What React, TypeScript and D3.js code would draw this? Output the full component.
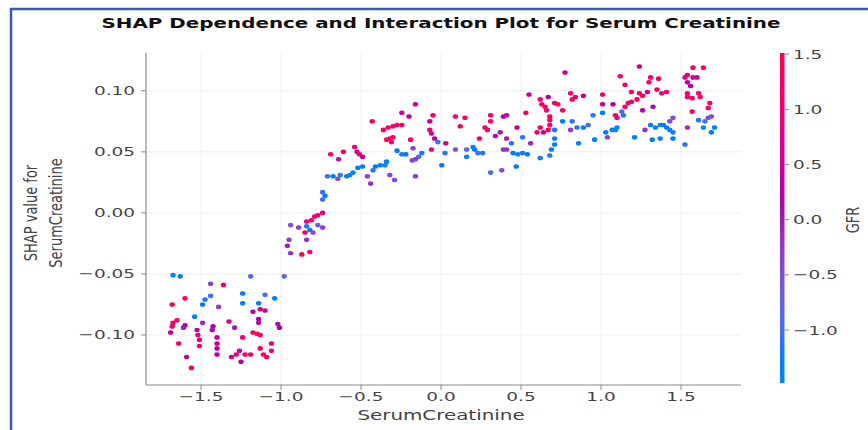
import React, { useEffect, useRef } from "react";
import * as d3 from "d3";

// values
const serumCreatinine = [
  -1.675, -1.63, -1.44, -1.36, -1.19, -0.98, -1.6, -1.68, -1.49, -1.475,
  -1.44, -1.39, -1.24, -1.24, -1.1, -1.04, -1.14, -1.54, -1.49, -1.65,
  -1.675, -1.68, -1.6, -1.61, -1.175, -1.13, -1.1, -1.14, -1.14, -1.325,
  -1.02, -1.01, -1.69, -1.525, -1.52, -1.51, -1.51, -1.425, -1.43, -1.4,
  -1.4, -1.4, -1.4, -1.29, -1.24, -1.175, -1.15, -1.13, -1.06, -1.06,
  -1.64, -1.31, -1.28, -1.26, -1.225, -1.19, -1.13, -1.11, -1.09, -1.59, -1.25, -1.56,
  -0.94, -0.89, -0.95, -0.96, -0.94, -0.87, -0.82, -0.84, -0.84, -0.82,
  -0.8, -0.84, -0.81, -0.79, -0.77, -0.74, -0.77, -0.74, -0.85, -0.74,
  -0.725, -0.74, -0.71, -0.675, -0.645, -0.59, -0.57, -0.55, -0.52, -0.49,
  -0.46, -0.44, -0.69, -0.64, -0.61, -0.54, -0.525, -0.51, -0.49, -0.63,
  -0.43, -0.41, -0.38, -0.35, -0.34, -0.425, -0.32, -0.29, -0.36, -0.33,
  -0.3, -0.275, -0.245, -0.32, -0.34, -0.31, -0.245, -0.2, -0.16, -0.05,
  -0.07, -0.07, -0.06, -0.04, -0.02, -0.19, -0.275, -0.245, -0.22, -0.175,
  -0.12, -0.14, -0.16, -0.18, -0.16, -0.06, 0.005, 0.025, 0.03, -0.3,
  0.09, 0.15, 0.12, 0.09, 0.16, 0.16, 0.2, 0.21, 0.23, 0.26,
  0.24, 0.275, 0.29, 0.31, 0.31, 0.34, 0.37, 0.39, 0.41, 0.39,
  0.41, 0.44, 0.45, 0.475, 0.48, 0.51, 0.54, 0.51, 0.56, 0.53,
  0.55, 0.62, 0.63, 0.65, 0.66, 0.67, 0.71, 0.73, 0.68, 0.68,
  0.68, 0.67, 0.62, 0.64, 0.71, 0.71, 0.71, 0.69, 0.68, 0.62,
  0.47, 0.31, 0.38, 0.6, 0.41,
  0.775, 0.76, 0.81, 0.84, 0.89, 0.82, 0.76, 0.82, 0.85, 0.89,
  0.92, 0.81, 0.86, 0.96, 0.95, 1.01, 1.01, 1.01, 1.075, 1.09,
  1.1, 1.14, 1.13, 1.03, 1.07, 1.09, 1.1, 1.04, 1.15, 1.17,
  1.19, 1.225, 1.26, 1.12, 1.15, 1.24, 1.19, 1.24, 1.29, 1.35,
  1.38, 1.41, 1.31, 1.36, 1.3, 1.26, 1.325, 1.31, 1.21, 1.275,
  1.32, 1.37, 1.34, 1.37, 1.39, 1.41, 1.43, 1.45, 1.43, 1.45,
  1.45, 1.525, 1.54, 1.56, 1.525, 1.54, 1.575, 1.6, 1.575, 1.64,
  1.54, 1.54, 1.57, 1.61, 1.62, 1.57, 1.68, 1.67, 1.54, 1.61,
  1.65, 1.67, 1.69, 1.64, 1.69, 1.71,
];

const shapValues = [
  -0.051, -0.052, -0.058, -0.059, -0.052, -0.052, -0.07, -0.075, -0.075, -0.071,
  -0.068, -0.077, -0.066, -0.074, -0.067, -0.07, -0.074, -0.085, -0.09, -0.088,
  -0.09, -0.093, -0.092, -0.094, -0.081, -0.079, -0.08, -0.087, -0.09, -0.089,
  -0.091, -0.094, -0.098, -0.096, -0.1, -0.104, -0.109, -0.093, -0.096, -0.102,
  -0.107, -0.111, -0.116, -0.094, -0.102, -0.098, -0.099, -0.1, -0.107, -0.113,
  -0.107, -0.118, -0.116, -0.113, -0.116, -0.116, -0.111, -0.116, -0.118, -0.118, -0.122, -0.127,
  -0.01, -0.012, -0.022, -0.027, -0.033, -0.034, -0.032, -0.022, -0.011, -0.014,
  -0.016, -0.007, -0.006, -0.003, -0.002, 0.0, -0.01, -0.012, -0.016, 0.017,
  0.014, 0.011, 0.03, 0.03, 0.028, 0.03, 0.031, 0.033, 0.037, 0.038,
  0.03, 0.024, 0.048, 0.044, 0.05, 0.054, 0.05, 0.048, 0.046, 0.031,
  0.075, 0.038, 0.039, 0.039, 0.042, 0.035, 0.031, 0.027, 0.068, 0.07,
  0.071, 0.072, 0.072, 0.061, 0.06, 0.058, 0.082, 0.079, 0.089, 0.08,
  0.075, 0.068, 0.065, 0.061, 0.058, 0.06, 0.051, 0.048, 0.048, 0.053,
  0.049, 0.046, 0.044, 0.043, 0.03, 0.052, 0.039, 0.049, 0.057, 0.062,
  0.079, 0.078, 0.071, 0.052, 0.052, 0.046, 0.054, 0.052, 0.049, 0.049,
  0.061, 0.07, 0.068, 0.075, 0.08, 0.063, 0.066, 0.079, 0.08, 0.052,
  0.052, 0.057, 0.049, 0.07, 0.048, 0.049, 0.048, 0.062, 0.057, 0.082,
  0.097, 0.093, 0.089, 0.087, 0.084, 0.095, 0.09, 0.089, 0.079, 0.076,
  0.072, 0.068, 0.07, 0.066, 0.068, 0.061, 0.056, 0.052, 0.047, 0.045,
  0.038, 0.033, 0.035, 0.066, 0.061,
  0.115, 0.084, 0.098, 0.095, 0.096, 0.093, 0.075, 0.075, 0.07, 0.07,
  0.072, 0.068, 0.057, 0.06, 0.08, 0.082, 0.097, 0.089, 0.089, 0.08,
  0.078, 0.08, 0.083, 0.066, 0.068, 0.068, 0.07, 0.062, 0.087, 0.09,
  0.091, 0.093, 0.096, 0.112, 0.105, 0.12, 0.099, 0.098, 0.099, 0.101,
  0.098, 0.099, 0.111, 0.11, 0.107, 0.084, 0.087, 0.072, 0.062, 0.068,
  0.06, 0.061, 0.07, 0.072, 0.072, 0.07, 0.068, 0.066, 0.075, 0.078,
  0.061, 0.056, 0.107, 0.104, 0.111, 0.113, 0.111, 0.111, 0.119, 0.119,
  0.098, 0.095, 0.094, 0.098, 0.095, 0.083, 0.09, 0.086, 0.07, 0.076,
  0.075, 0.078, 0.079, 0.07, 0.066, 0.07,
];

const gfrValues = [
  -1.35, -1.25, -0.4, 1.25, -0.95, -0.95, 1.25, 1.35, -1.25, -1.15,
  -1.05, -0.3, -1.35, -1.35, -0.95, -1.25, -1.25, -1.45, -0.1, 1.25,
  1.35, 1.15, 0.2, 0.0, 0.3, 0.6, 0.4, 0.2, 0.1, 0.7,
  0.1, 0.2, 0.4, 0.3, 1.15, 1.15, 1.25, 0.2, 0.1, 0.4,
  0.5, 0.3, 0.2, 0.0, 1.15, 1.35, 1.45, 1.25, 1.15, 1.05,
  1.15, 0.6, 1.05, 0.5, 1.25, 1.35, 1.35, 1.25, 1.45, 0.1, 0.2, 1.15,
  -0.5, -0.3, -0.3, 0.0, -0.2, 1.25, 1.05, -0.2, -1.15, -1.25,
  -0.5, 1.15, 1.25, 0.7, 1.25, 0.6, -0.95, -0.3, 1.15, -1.05,
  -1.25, -0.95, -0.95, -1.25, -0.5, -1.35, -1.45, -1.35, -1.25, -1.35,
  -0.3, -0.2, 1.25, 0.0, 1.15, 1.05, 0.5, 1.25, 0.2, -1.05,
  1.25, -1.25, -1.35, -1.15, -1.35, -1.05, -0.3, -0.5, 1.25, 1.35,
  1.25, 1.15, 1.45, 1.15, 1.35, 1.15, 0.4, 0.3, 0.6, 1.05,
  0.4, 1.15, 0.6, 0.3, -0.95, 1.25, -1.25, -1.15, -1.25, -0.3,
  -1.15, -0.95, -0.2, -0.4, -0.3, 1.25, -1.25, -1.15, 0.5, 1.35,
  1.25, 1.15, 1.35, -0.5, -0.95, -1.25, -1.35, -1.25, -1.05, -1.15,
  1.25, 1.15, 1.05, 1.25, 1.15, 0.1, 0.0, 0.2, 0.3, -0.1,
  -0.2, -1.15, -1.25, 0.3, -1.35, -1.15, -1.25, -1.05, -0.1, 1.25,
  0.3, 1.25, 1.05, 1.35, 1.15, 0.3, 1.25, 1.45, 1.25, 1.35,
  1.15, 1.25, 1.25, 0.4, -1.15, -1.25, -1.35, -1.25, -1.15, -1.35,
  -1.25, -0.95, -0.5, 1.25, 0.0,
  0.4, 1.25, 1.25, 1.15, 0.3, 1.35, -1.25, -1.05, -1.15, -1.35,
  -0.95, -0.3, -1.35, -1.25, -1.15, -1.25, 1.15, 0.4, 0.2, 1.25,
  1.05, -1.15, -0.95, -1.35, -1.25, -1.15, -1.35, -0.3, 1.25, 1.35,
  1.15, 1.25, 1.45, 1.25, 1.35, 0.4, 1.25, 1.15, 0.5, 1.25,
  1.05, 1.35, 1.25, 1.45, 1.15, 0.3, 0.1, -1.25, -1.35, -0.2,
  -1.25, -1.35, -1.45, -1.45, -1.35, -1.25, -1.45, -1.15, -0.4, -0.5,
  -1.25, -1.15, 0.3, 0.2, 1.15, 0.6, 0.5, 0.4, 1.25, 1.35,
  1.25, 1.15, 1.35, 1.25, 1.15, 1.35, 1.25, 1.35, -0.2, -1.15,
  -0.95, -0.5, -0.4, -1.45, -1.25, -1.35,
];

const xTicks = [-1.5, -1.0, -0.5, 0.0, 0.5, 1.0, 1.5];
const yTicks = [-0.1, -0.05, 0.0, 0.05, 0.1];
const gfrTicks = [-1.0, -0.5, 0.0, 0.5, 1.0, 1.5];
const gfrRange = [-1.48, 1.51];

const W = 868;
const H = 430;
const SX = 1.42; // the picture is stretched sideways
const FONT = "DejaVu Sans";

// shap red_blue colormap (LCh blue -> dark purple -> red)
function redBlue(t: number) {
  t = Math.max(0, Math.min(1, t));
  const h = 266.9 + t * (380.3 - 266.9);
  const c = 70 + 20 * t;
  const l = t < 0.5 ? 54 - 28 * t : 40 + 28 * (t - 0.5);
  return d3.hcl(h % 360, c, l).formatHex();
}

export default function App() {
  const ref = useRef<SVGSVGElement>(null);

  useEffect(() => {
    const svg = d3.select(ref.current);
    svg.selectAll("*").remove();

    const x = d3.scaleLinear().domain([-1.844, 1.875]).range([146, 741]);
    const y = d3.scaleLinear().domain([-0.141, 0.131]).range([385, 53]);
    const cb = d3.scaleLinear().domain(gfrRange).range([383, 53]);
    const colorOf = (v: number) => redBlue((v - gfrRange[0]) / (gfrRange[1] - gfrRange[0]));

    const text = (px: number, py: number, str: string, size: number, anchor: string, weight = "normal", fill = "#444") =>
      svg.append("text")
        .attr("transform", `translate(${px},${py}) scale(${SX},1)`)
        .attr("text-anchor", anchor)
        .attr("font-family", FONT)
        .attr("font-size", size)
        .attr("font-weight", weight)
        .attr("fill", fill)
        .text(str);

    svg.append("rect").attr("width", W).attr("height", H).attr("fill", "#fff");

    // frame round the picture
    svg.append("path").attr("d", `M11,${H} V9 H${W}`).attr("fill", "none")
      .attr("stroke", "#3a5ba6").attr("stroke-width", 2.5);

    // grid
    svg.append("g").selectAll("line").data(xTicks).enter().append("line")
      .attr("x1", d => x(d)).attr("x2", d => x(d)).attr("y1", 53).attr("y2", 385)
      .attr("stroke", "#eeeeee").attr("stroke-width", 1);
    svg.append("g").selectAll("line").data(yTicks).enter().append("line")
      .attr("x1", 146).attr("x2", 741).attr("y1", d => y(d)).attr("y2", d => y(d))
      .attr("stroke", "#eeeeee").attr("stroke-width", 1);

    // points
    const idx = d3.range(serumCreatinine.length);
    svg.append("g").selectAll("ellipse").data(idx).enter().append("ellipse")
      .attr("cx", i => x(serumCreatinine[i]))
      .attr("cy", i => y(shapValues[i]))
      .attr("rx", 2.7).attr("ry", 2.3)
      .attr("fill", i => colorOf(gfrValues[i]));

    // spines and ticks
    const axisColor = "#8a8a8a";
    svg.append("line").attr("x1", 146).attr("x2", 146).attr("y1", 53).attr("y2", 385)
      .attr("stroke", axisColor).attr("stroke-width", 1.2);
    svg.append("line").attr("x1", 146).attr("x2", 741).attr("y1", 385).attr("y2", 385)
      .attr("stroke", axisColor).attr("stroke-width", 1.2);

    const fx = d3.format(".1f");
    const fy = d3.format(".2f");
    xTicks.forEach(t => {
      svg.append("line").attr("x1", x(t)).attr("x2", x(t)).attr("y1", 385).attr("y2", 390)
        .attr("stroke", axisColor);
      text(x(t), 401, fx(t), 13, "middle");
    });
    yTicks.forEach(t => {
      svg.append("line").attr("x1", 141).attr("x2", 146).attr("y1", y(t)).attr("y2", y(t))
        .attr("stroke", axisColor);
      text(135, y(t) + 4.5, fy(t), 13, "end");
    });

    // axis labels
    text(441, 420, "SerumCreatinine", 14, "middle");
    ["SHAP value for", "SerumCreatinine"].forEach((s, i) => {
      svg.append("text")
        .attr("transform", `translate(${37 + i * 25},213) rotate(-90) scale(1,${SX})`)
        .attr("text-anchor", "middle")
        .attr("font-family", FONT).attr("font-size", 13).attr("fill", "#444")
        .text(s);
    });

    // title
    text(441, 28, "SHAP Dependence and Interaction Plot for Serum Creatinine", 14, "middle", "bold", "#111");

    // colorbar
    const grad = svg.append("defs").append("linearGradient").attr("id", "gfrGrad")
      .attr("x1", 0).attr("y1", 1).attr("x2", 0).attr("y2", 0);
    d3.range(0, 1.0001, 0.05).forEach(t => {
      grad.append("stop").attr("offset", t).attr("stop-color", redBlue(t));
    });
    svg.append("rect").attr("x", 780).attr("y", cb(gfrRange[1])).attr("width", 4.5)
      .attr("height", cb(gfrRange[0]) - cb(gfrRange[1])).attr("fill", "url(#gfrGrad)");
    gfrTicks.forEach(t => {
      svg.append("line").attr("x1", 784.5).attr("x2", 789).attr("y1", cb(t)).attr("y2", cb(t))
        .attr("stroke", axisColor);
      text(793, cb(t) + 4.5, fx(t), 13, "start");
    });
    svg.append("text")
      .attr("transform", `translate(859,220) rotate(-90) scale(1,${SX})`)
      .attr("text-anchor", "middle")
      .attr("font-family", FONT).attr("font-size", 13).attr("fill", "#444")
      .text("GFR");
  }, []);

  return (
    <svg ref={ref} width={W} height={H}
      style={{ position: "absolute", left: 0, top: 0, display: "block" }} />
  );
}
